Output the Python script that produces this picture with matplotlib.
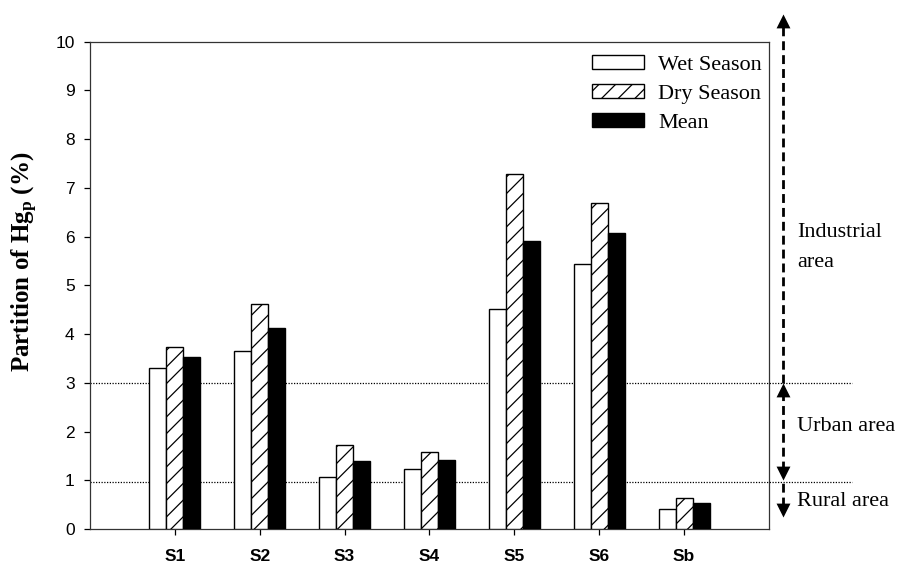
import matplotlib
matplotlib.use("Agg")
import matplotlib.pyplot as plt
import numpy as np
from matplotlib.path import Path

# Data: partition of particulate Hg (%) at each site
sites = ["S1", "S2", "S3", "S4", "S5", "S6", "Sb"]
wet_season = [3.30, 3.65, 1.06, 1.23, 4.51, 5.44, 0.42]
dry_season = [3.73, 4.62, 1.72, 1.57, 7.29, 6.70, 0.64]
mean_vals = [3.52, 4.13, 1.40, 1.41, 5.91, 6.07, 0.53]

# Zone thresholds and labels for the land-use annotation on the right
threshold_levels = [3.0, 0.96]
industrial_span = [3.0, 10.57]
urban_span = [1.0, 3.0]
rural_span = [0.25, 1.0]
zone_labels = ["Industrial\narea", "Urban area", "Rural area"]
zone_label_y = [5.77, 2.10, 0.56]

plt.rcParams["mathtext.fontset"] = "custom"
plt.rcParams["mathtext.rm"] = "Liberation Serif:bold"
plt.rcParams["mathtext.it"] = "Liberation Serif:bold"
plt.rcParams["mathtext.bf"] = "Liberation Serif:bold"
plt.rcParams["hatch.linewidth"] = 0.9

W, H = 904, 563
fig = plt.figure(figsize=(W / 100, H / 100), dpi=100)
ax = fig.add_axes([90 / W, 1 - 529 / H, (769 - 90) / W, (529 - 41.7) / H])

x = np.arange(1, len(sites) + 1)
bw = 0.2
b1 = ax.bar(x - bw, wet_season, bw, color="white", edgecolor="black", linewidth=1.0, label="Wet Season", zorder=3)
b2 = ax.bar(x, dry_season, bw, color="white", edgecolor="black", linewidth=1.0, hatch="//", label="Dry Season", zorder=3)
b3 = ax.bar(x + bw, mean_vals, bw, color="black", edgecolor="black", linewidth=1.0, label="Mean", zorder=3)

ax.set_xlim(0, 8)
ax.set_ylim(0, 10)
ax.set_yticks(range(0, 11))
ax.set_xticks(x)
ax.set_xticklabels(sites, fontfamily="Liberation Sans", fontweight="bold", fontsize=12.5)
for lab in ax.get_yticklabels():
    lab.set_fontfamily("Liberation Sans")
    lab.set_fontsize(12.5)
ax.tick_params(axis="y", direction="out", length=4, width=0.9, pad=7, right=False)
ax.tick_params(axis="x", direction="out", length=4, width=0.9, pad=10.5, top=False)
for s in ax.spines.values():
    s.set_linewidth(0.9)
    s.set_color("#333333")

fig.text(25 / W, 1 - 262 / H, r"Partition of Hg$_\mathrm{p}$ (%)", rotation=90,
         ha="center", va="center", fontfamily="Liberation Serif", fontweight="bold", fontsize=18)

# Dotted threshold lines extending past the frame
for lvl in threshold_levels:
    ax.plot([0, 8.98], [lvl, lvl], linestyle=(0, (1, 1.2)), color="black", linewidth=0.9,
            clip_on=False, zorder=2)

# Dashed arrows marking the zones
ax_x = 8.16
dash = (0, (3.2, 1.8))
up_head = Path([(0, 0), (-0.5, -1), (0.5, -1), (0, 0)], [1, 2, 2, 79])
down_head = Path([(0, 0), (-0.5, 1), (0.5, 1), (0, 0)], [1, 2, 2, 79])
head_ms = 20


def shaft(lo, hi, lo_head, hi_head):
    y0 = lo + (0.22 if lo_head else 0)
    y1 = hi - (0.22 if hi_head else 0)
    ax.plot([ax_x, ax_x], [y0, y1], color="black", linewidth=2.0, linestyle=dash,
            clip_on=False, solid_capstyle="butt", dash_capstyle="butt")
    if hi_head:
        ax.plot([ax_x], [hi], marker=up_head, markersize=head_ms, color="black",
                markeredgewidth=0, clip_on=False)
    if lo_head:
        ax.plot([ax_x], [lo], marker=down_head, markersize=head_ms, color="black",
                markeredgewidth=0, clip_on=False)


shaft(industrial_span[0], industrial_span[1], False, True)
shaft(urban_span[0], urban_span[1], True, True)
shaft(rural_span[0], rural_span[1], True, False)

for lab, yy in zip(zone_labels, zone_label_y):
    ax.text(8.33, yy, lab, ha="left", va="center", fontfamily="Liberation Serif",
            fontsize=16, linespacing=1.8, clip_on=False)

leg = ax.legend(handles=[b1, b2, b3], loc="upper left",
                bbox_to_anchor=(591.7 / W, 1 - 55.5 / H), bbox_transform=fig.transFigure,
                frameon=False, borderpad=0, borderaxespad=0,
                prop={"family": "Liberation Serif", "size": 16},
                handlelength=2.34, handleheight=0.57, handletextpad=0.66, labelspacing=0.41)

fig.savefig("out.png", dpi=100)
